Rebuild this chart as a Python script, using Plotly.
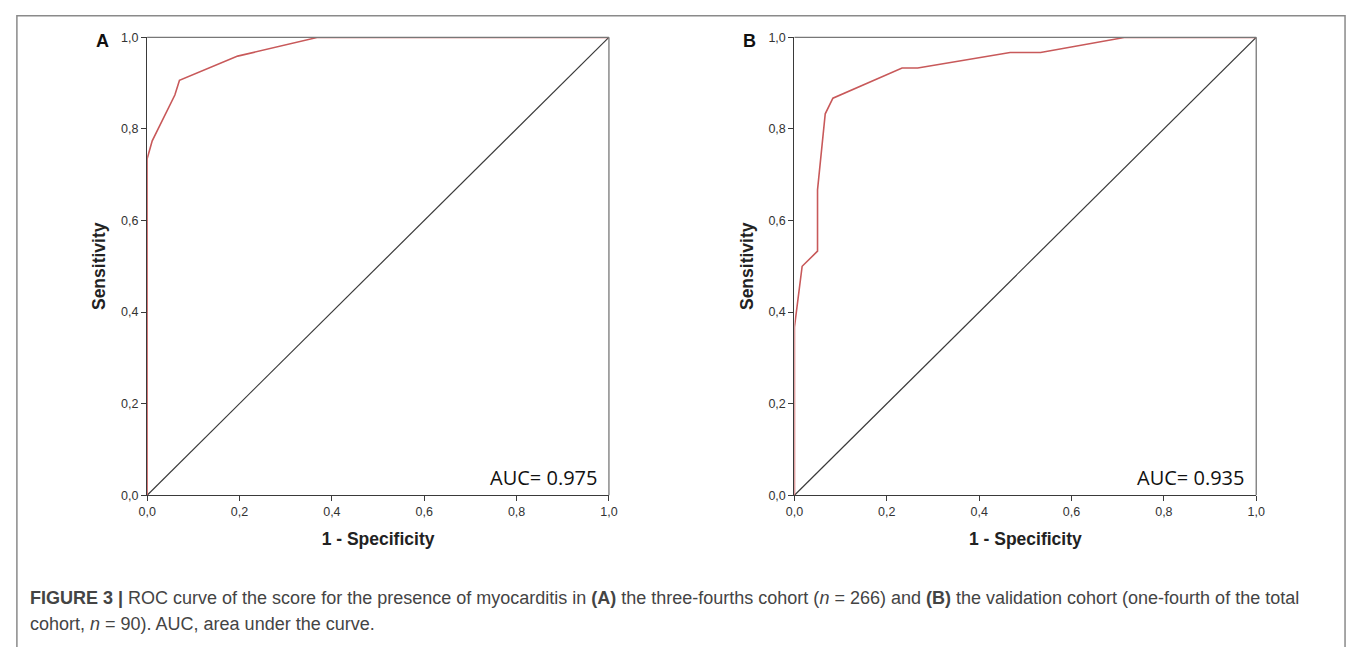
import plotly.graph_objects as go

W, H = 1357, 647

# ROC curve A (three-fourths cohort)
fpr_a = [0.0, 0.0, 0.011, 0.06, 0.07, 0.196, 0.37, 1.0]
tpr_a = [0.0, 0.735, 0.774, 0.874, 0.906, 0.959, 1.0, 1.0]
# ROC curve B (validation cohort)
fpr_b = [0.0, 0.0, 0.0167, 0.05, 0.05, 0.0667, 0.0833, 0.233, 0.267, 0.467, 0.533, 0.717, 1.0]
tpr_b = [0.0, 0.367, 0.5, 0.533, 0.667, 0.833, 0.867, 0.933, 0.933, 0.967, 0.967, 1.0, 1.0]
ref_line = [0.0, 1.0]
ticks = [0.0, 0.2, 0.4, 0.6, 0.8, 1.0]
auc_labels = ["AUC= 0.975", "AUC= 0.935"]
panel_labels = ["A", "B"]

RED = "#c8595a"
DARK = "#3a3a3a"

fig = go.Figure()
for i, (fx, ty) in enumerate([(fpr_a, tpr_a), (fpr_b, tpr_b)]):
    xa = "x" if i == 0 else "x2"
    ya = "y" if i == 0 else "y2"
    fig.add_trace(go.Scatter(x=ref_line, y=ref_line, mode="lines", xaxis=xa, yaxis=ya,
                             line=dict(color=DARK, width=1.2), showlegend=False, hoverinfo="skip"))
    fig.add_trace(go.Scatter(x=fx, y=ty, mode="lines", xaxis=xa, yaxis=ya,
                             line=dict(color=RED, width=1.6), showlegend=False))

px0 = [140, 796]
pw = 468
ytop, ybot = 31, 499
dom_y = [(H - ybot) / H, (H - ytop) / H]

axis_common = dict(range=[0, 1], tickvals=ticks, tickformat=".1f", showgrid=False, zeroline=False,
                   showline=True, linecolor=DARK, linewidth=1.3, ticks="outside", ticklen=5,
                   tickcolor=DARK, tickwidth=1.3,
                   tickfont=dict(family="Liberation Sans, Arial", size=12.5, color="#333"),
                   fixedrange=True)

title_font = dict(family="Liberation Sans, Arial", size=17.5, color="#222")
layout = dict(width=W, height=H, margin=dict(l=0, r=0, t=0, b=0), separators=",.",
              plot_bgcolor="white", paper_bgcolor="white", showlegend=False)
for i in range(2):
    sx = "" if i == 0 else "2"
    dx = [px0[i] / W, (px0[i] + pw) / W]
    layout["xaxis" + sx] = dict(axis_common, domain=dx, anchor="y" + sx,
                                title=dict(text="<b>1 - Specificity</b>", standoff=14, font=title_font))
    layout["yaxis" + sx] = dict(axis_common, domain=dom_y, anchor="x" + sx,
                                title=dict(text="<b>Sensitivity</b>", standoff=10, font=title_font))
fig.update_layout(**layout)

shapes = []
annotations = []
for i in range(2):
    sx = "" if i == 0 else "2"
    # top and right frame lines (lighter)
    shapes.append(dict(type="line", xref=f"x{sx} domain", yref=f"y{sx} domain", x0=0, x1=1, y0=1, y1=1,
                       line=dict(color="#777", width=1.3)))
    shapes.append(dict(type="line", xref=f"x{sx} domain", yref=f"y{sx} domain", x0=1, x1=1, y0=0, y1=1,
                       line=dict(color="#777", width=1.3)))
    annotations.append(dict(text=auc_labels[i], xref=f"x{sx} domain", yref=f"y{sx} domain",
                            x=1 - 10 / pw, y=0.005, xanchor="right", yanchor="bottom", showarrow=False,
                            font=dict(family="Open Sans, Noto Sans", size=20, color="#111")))
    annotations.append(dict(text=f"<b>{panel_labels[i]}</b>", xref="paper", yref="paper",
                            x=(px0[i] - 37) / W, y=(H - 35) / H, xanchor="right", yanchor="middle",
                            showarrow=False,
                            font=dict(family="Liberation Sans, Arial", size=18, color="#111")))

# outer figure border
shapes.append(dict(type="rect", xref="paper", yref="paper", x0=8 / W, x1=1354 / W, y0=-0.02, y1=(H - 9) / H,
                   line=dict(color="#8a8a8a", width=1.5), fillcolor="rgba(0,0,0,0)", layer="below"))

cap1 = ("<b>FIGURE 3 |</b> ROC curve of the score for the presence of myocarditis in <b>(A)</b> the three-fourths "
        "cohort (<i>n</i> = 266) and <b>(B)</b> the validation cohort (one-fourth of the total")
cap2 = "cohort, <i>n</i> = 90). AUC, area under the curve."
for txt, yc in [(cap1, 604), (cap2, 631)]:
    annotations.append(dict(text=txt, xref="paper", yref="paper", x=19 / W, y=(H - yc) / H,
                            xanchor="left", yanchor="middle", showarrow=False, align="left",
                            font=dict(family="Liberation Sans, Arial", size=18, color="#444")))

fig.update_layout(shapes=shapes, annotations=annotations)
fig.write_html("out.html", config={"displayModeBar": False},
               post_script="document.body.style.margin='0px';document.body.style.padding='0px';")
